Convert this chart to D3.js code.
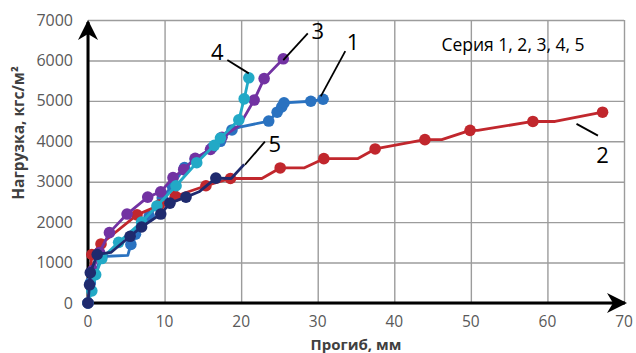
<!DOCTYPE html>
<html>
<head>
<meta charset="utf-8">
<script src="https://cdn.jsdelivr.net/npm/d3@7"></script>
<style>
  body { margin: 0; background: #fff; }
  svg { display: block; font-family: "Open Sans", "Noto Sans", sans-serif; }
</style>
</head>
<body>
<div id="chart"></div>
<script>
// [прогиб мм, нагрузка кгс/м2, маркер 1/0]
const series1 = [[0,0,1],[0.3,500,1],[0.8,700,1],[1.8,1150,1],[5.2,1180,0],[5.6,1450,1],[6.2,1700,1],[8,2150,1],[9.7,2600,1],[11,2900,1],[12.6,3350,1],[14,3550,1],[16.2,3840,1],[17.3,4000,1],[18.8,4280,1],[19.8,4350,0],[23.6,4500,1],[24.7,4720,1],[25.3,4850,1],[25.6,4950,1],[29.1,4990,1],[30.7,5040,1]];
const series2 = [[0,0,1],[0.5,1200,1],[1.7,1460,1],[6.4,2180,1],[9.3,2420,1],[11.4,2640,1],[15.4,2900,1],[18.6,3080,1],[22.7,3080,0],[25.1,3340,1],[28.2,3340,0],[30.8,3570,1],[35.2,3570,0],[37.5,3810,1],[44,4040,1],[46.2,4040,0],[49.9,4270,1],[50.9,4270,0],[58.1,4490,1],[61,4490,0],[67.2,4720,1]];
const series3 = [[0,0,1],[0.6,800,1],[1.5,1250,1],[2.8,1740,1],[5.1,2200,1],[7.8,2620,1],[9.5,2750,1],[11.1,3100,1],[12.5,3300,1],[14,3580,1],[16,3800,1],[17.5,4100,1],[19.8,4400,0],[21.7,5020,1],[23,5550,1],[25.5,6040,1]];
const series4 = [[0,0,1],[0.5,300,1],[1,700,1],[1.8,1100,1],[4,1500,1],[7,2000,1],[9,2400,1],[11.5,2900,1],[14.2,3470,1],[16.5,3900,1],[17.3,4080,1],[19.7,4530,1],[20.4,5050,1],[21,5570,1]];
const series5 = [[0,0,1],[0.2,450,1],[0.3,750,1],[1.2,1200,1],[3,1250,0],[5.5,1650,1],[7,1880,1],[9.5,2200,1],[10.7,2470,1],[12.8,2620,1],[14.5,2750,0],[16.7,3090,1],[18.7,3080,0],[20.4,3430,0]];

const seriesColors = ["#2a72c0", "#c1272d", "#7232a2", "#22a9c6", "#1f2a6e"];
const xTicks = [0, 10, 20, 30, 40, 50, 60, 70];
const yTicks = [0, 1000, 2000, 3000, 4000, 5000, 6000, 7000];
// номер, положение подписи, начало и конец выноски (в единицах данных)
const labels = [
  {t: "1", at: [34.6, 6460], from: [33.6, 6230], to: [30.4, 5110]},
  {t: "2", at: [67.2, 3660], from: [63.8, 4430], to: [66.6, 4140]},
  {t: "3", at: [30, 6730], from: [28.7, 6670], to: [25.5, 6010]},
  {t: "4", at: [16.9, 6200], from: [18.2, 6010], to: [21, 5680]},
  {t: "5", at: [24.4, 3930], from: [23.1, 3990], to: [20.5, 3420]}
];
const legendText = "Серия 1, 2, 3, 4, 5";

const width = 636, height = 353;
const margin = {top: 20, right: 12, bottom: 50, left: 88};

const svg = d3.select("#chart").append("svg")
  .attr("width", width)
  .attr("height", height);

const x = d3.scaleLinear().domain([0, 70]).range([margin.left, width - margin.right]);
const y = d3.scaleLinear().domain([0, 7000]).range([height - margin.bottom, margin.top]);

// сетка
svg.append("g")
  .attr("transform", "translate(0," + (height - margin.bottom) + ")")
  .call(d3.axisBottom(x).tickValues(xTicks).tickSize(-(y(0) - y(7000))).tickFormat(""))
  .call(g => g.select(".domain").remove())
  .call(g => g.selectAll("line").attr("stroke", "#9c9c9c").attr("stroke-width", 1.4));

svg.append("g")
  .attr("transform", "translate(" + margin.left + ",0)")
  .call(d3.axisLeft(y).tickValues(yTicks).tickSize(-(x(70) - x(0))).tickFormat(""))
  .call(g => g.select(".domain").remove())
  .call(g => g.selectAll("line").attr("stroke", "#9c9c9c").attr("stroke-width", 1.4));

// подписи делений
svg.append("g")
  .selectAll("text")
  .data(yTicks)
  .join("text")
    .attr("x", 73)
    .attr("y", d => y(d))
    .attr("dy", "0.35em")
    .attr("text-anchor", "end")
    .attr("font-size", 16)
    .attr("fill", "#595959")
    .text(d => d);

svg.append("g")
  .selectAll("text")
  .data(xTicks)
  .join("text")
    .attr("x", d => x(d))
    .attr("y", 322)
    .attr("dy", "0.35em")
    .attr("text-anchor", "middle")
    .attr("font-size", 15.5)
    .attr("fill", "#595959")
    .text(d => d);

// оси со стрелками
const defs = svg.append("defs");
defs.append("marker")
  .attr("id", "arrow")
  .attr("viewBox", "0 0 10 10")
  .attr("refX", 9)
  .attr("refY", 5)
  .attr("markerWidth", 20)
  .attr("markerHeight", 20)
  .attr("markerUnits", "userSpaceOnUse")
  .attr("orient", "auto")
  .append("path")
    .attr("d", "M0,0 L10,5 L0,10 L3,5 Z")
    .attr("fill", "#000");

svg.append("line")
  .attr("x1", x(0)).attr("y1", y(0))
  .attr("x2", x(0)).attr("y2", y(7000) + 2)
  .attr("stroke", "#000").attr("stroke-width", 3)
  .attr("marker-end", "url(#arrow)");

svg.append("line")
  .attr("x1", x(0) - 1).attr("y1", y(0))
  .attr("x2", x(70) + 1).attr("y2", y(0))
  .attr("stroke", "#000").attr("stroke-width", 3)
  .attr("marker-end", "url(#arrow)");

// серии
const allSeries = [series1, series2, series3, series4, series5];
const line = d3.line().x(d => x(d[0])).y(d => y(d[1]));

allSeries.forEach((s, i) => {
  const g = svg.append("g");
  g.append("path")
    .datum(s)
    .attr("d", line)
    .attr("fill", "none")
    .attr("stroke", seriesColors[i])
    .attr("stroke-width", 2.8)
    .attr("stroke-linejoin", "round");
  g.selectAll("circle")
    .data(s.filter(d => d[2]))
    .join("circle")
      .attr("cx", d => x(d[0]))
      .attr("cy", d => y(d[1]))
      .attr("r", 5.8)
      .attr("fill", seriesColors[i]);
});

// номера кривых
labels.forEach(l => {
  svg.append("line")
    .attr("x1", x(l.from[0])).attr("y1", y(l.from[1]))
    .attr("x2", x(l.to[0])).attr("y2", y(l.to[1]))
    .attr("stroke", "#000").attr("stroke-width", 1.8);
  svg.append("text")
    .attr("x", x(l.at[0]))
    .attr("y", y(l.at[1]))
    .attr("dy", "0.35em")
    .attr("text-anchor", "middle")
    .attr("font-size", 22)
    .attr("fill", "#000")
    .text(l.t);
});

svg.append("text")
  .attr("x", 513)
  .attr("y", 45)
  .attr("dy", "0.35em")
  .attr("text-anchor", "middle")
  .attr("font-size", 17.5)
  .attr("fill", "#000")
  .text(legendText);

// заголовки осей
svg.append("text")
  .attr("transform", "translate(19," + 133 + ") rotate(-90)")
  .attr("dy", "0.35em")
  .attr("text-anchor", "middle")
  .attr("font-size", 15.5)
  .attr("font-weight", "bold")
  .attr("fill", "#404040")
  .text("Нагрузка, кгс/м²");

svg.append("text")
  .attr("x", 356)
  .attr("y", 350)
  .attr("text-anchor", "middle")
  .attr("font-size", 15)
  .attr("font-weight", "bold")
  .attr("fill", "#404040")
  .text("Прогиб, мм");
</script>
</body>
</html>
